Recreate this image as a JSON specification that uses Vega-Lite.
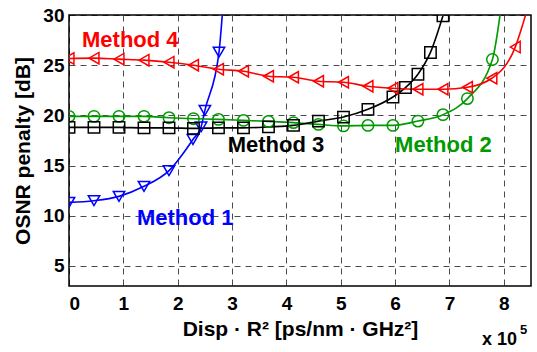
{
  "$schema": "https://vega.github.io/schema/vega-lite/v6.json",
  "width": 462,
  "height": 271,
  "autosize": "none",
  "padding": {"left": 69, "top": 15, "right": 6, "bottom": 66},
  "background": "white",
  "config": {
    "font": "Liberation Sans",
    "view": {"stroke": "black", "strokeWidth": 1.5},
    "axis": {
      "labelFont": "Liberation Sans", "labelFontWeight": "bold", "labelFontSize": 19, "labelColor": "black",
      "titleFont": "Liberation Sans", "titleFontWeight": "bold", "titleFontSize": 21, "titleColor": "black",
      "domain": false, "ticks": false,
      "grid": true, "gridColor": "black", "gridDash": [6, 5], "gridOpacity": 0.7, "gridWidth": 1
    }
  },
  "datasets": {
    "curves": [
      {"method": "Method 1", "x": 0.0, "y": 11.33, "kind": "meas"},
      {"method": "Method 1", "x": 0.46, "y": 11.5, "kind": "meas"},
      {"method": "Method 1", "x": 0.92, "y": 11.93, "kind": "meas"},
      {"method": "Method 1", "x": 1.38, "y": 12.93, "kind": "meas"},
      {"method": "Method 1", "x": 1.84, "y": 14.5, "kind": "meas"},
      {"method": "Method 1", "x": 2.28, "y": 17.6, "kind": "meas"},
      {"method": "Method 1", "x": 2.43, "y": 18.85, "kind": "meas"},
      {"method": "Method 1", "x": 2.5, "y": 20.5, "kind": "meas"},
      {"method": "Method 1", "x": 2.76, "y": 26.3, "kind": "meas"},
      {"method": "Method 1", "x": 2.82, "y": 30, "kind": "end"},

      {"method": "Method 2", "x": 0.0, "y": 19.9, "kind": "meas"},
      {"method": "Method 2", "x": 0.46, "y": 19.9, "kind": "meas"},
      {"method": "Method 2", "x": 0.92, "y": 19.9, "kind": "meas"},
      {"method": "Method 2", "x": 1.38, "y": 19.9, "kind": "meas"},
      {"method": "Method 2", "x": 1.84, "y": 19.77, "kind": "meas"},
      {"method": "Method 2", "x": 2.29, "y": 19.67, "kind": "meas"},
      {"method": "Method 2", "x": 2.75, "y": 19.6, "kind": "meas"},
      {"method": "Method 2", "x": 3.21, "y": 19.5, "kind": "meas"},
      {"method": "Method 2", "x": 3.67, "y": 19.4, "kind": "meas"},
      {"method": "Method 2", "x": 4.13, "y": 19.28, "kind": "meas"},
      {"method": "Method 2", "x": 4.59, "y": 19.1, "kind": "meas"},
      {"method": "Method 2", "x": 5.05, "y": 18.95, "kind": "meas"},
      {"method": "Method 2", "x": 5.5, "y": 19.0, "kind": "meas"},
      {"method": "Method 2", "x": 5.96, "y": 19.0, "kind": "meas"},
      {"method": "Method 2", "x": 6.42, "y": 19.43, "kind": "meas"},
      {"method": "Method 2", "x": 6.88, "y": 20.07, "kind": "meas"},
      {"method": "Method 2", "x": 7.33, "y": 21.67, "kind": "meas"},
      {"method": "Method 2", "x": 7.79, "y": 25.57, "kind": "meas"},
      {"method": "Method 2", "x": 7.93, "y": 30, "kind": "end"},

      {"method": "Method 3", "x": 0.0, "y": 18.8, "kind": "meas"},
      {"method": "Method 3", "x": 0.46, "y": 18.8, "kind": "meas"},
      {"method": "Method 3", "x": 0.92, "y": 18.8, "kind": "meas"},
      {"method": "Method 3", "x": 1.38, "y": 18.75, "kind": "meas"},
      {"method": "Method 3", "x": 1.84, "y": 18.75, "kind": "meas"},
      {"method": "Method 3", "x": 2.29, "y": 18.7, "kind": "meas"},
      {"method": "Method 3", "x": 2.75, "y": 18.75, "kind": "meas"},
      {"method": "Method 3", "x": 3.21, "y": 18.75, "kind": "meas"},
      {"method": "Method 3", "x": 3.67, "y": 18.85, "kind": "meas"},
      {"method": "Method 3", "x": 4.13, "y": 19.0, "kind": "meas"},
      {"method": "Method 3", "x": 4.59, "y": 19.43, "kind": "meas"},
      {"method": "Method 3", "x": 5.05, "y": 19.83, "kind": "meas"},
      {"method": "Method 3", "x": 5.5, "y": 20.6, "kind": "meas"},
      {"method": "Method 3", "x": 5.96, "y": 21.83, "kind": "meas"},
      {"method": "Method 3", "x": 6.19, "y": 22.77, "kind": "meas"},
      {"method": "Method 3", "x": 6.42, "y": 24.1, "kind": "meas"},
      {"method": "Method 3", "x": 6.65, "y": 26.27, "kind": "meas"},
      {"method": "Method 3", "x": 6.88, "y": 29.93, "kind": "meas"},

      {"method": "Method 4", "x": 0.0, "y": 25.67, "kind": "meas"},
      {"method": "Method 4", "x": 0.46, "y": 25.7, "kind": "meas"},
      {"method": "Method 4", "x": 0.92, "y": 25.6, "kind": "meas"},
      {"method": "Method 4", "x": 1.38, "y": 25.5, "kind": "meas"},
      {"method": "Method 4", "x": 1.84, "y": 25.3, "kind": "meas"},
      {"method": "Method 4", "x": 2.29, "y": 25.0, "kind": "meas"},
      {"method": "Method 4", "x": 2.75, "y": 24.6, "kind": "meas"},
      {"method": "Method 4", "x": 3.21, "y": 24.4, "kind": "meas"},
      {"method": "Method 4", "x": 3.67, "y": 23.9, "kind": "meas"},
      {"method": "Method 4", "x": 4.13, "y": 23.8, "kind": "meas"},
      {"method": "Method 4", "x": 4.59, "y": 23.4, "kind": "meas"},
      {"method": "Method 4", "x": 5.05, "y": 23.3, "kind": "meas"},
      {"method": "Method 4", "x": 5.5, "y": 22.9, "kind": "meas"},
      {"method": "Method 4", "x": 5.96, "y": 22.7, "kind": "meas"},
      {"method": "Method 4", "x": 6.42, "y": 22.6, "kind": "meas"},
      {"method": "Method 4", "x": 6.88, "y": 22.6, "kind": "meas"},
      {"method": "Method 4", "x": 7.33, "y": 22.8, "kind": "meas"},
      {"method": "Method 4", "x": 7.78, "y": 23.7, "kind": "meas"},
      {"method": "Method 4", "x": 8.21, "y": 26.8, "kind": "meas"},
      {"method": "Method 4", "x": 8.4, "y": 30, "kind": "end"}
    ],
    "labels": [
      {"method": "Method 4", "x": 0.24, "y": 27.5},
      {"method": "Method 3", "x": 2.92, "y": 17.0},
      {"method": "Method 2", "x": 6.0, "y": 17.0},
      {"method": "Method 1", "x": 1.25, "y": 9.8}
    ],
    "exp": [{"base": "x 10", "power": "5", "x": 7.6, "y": -2.9}]
  },
  "layer": [
    {
      "data": {"name": "curves"},
      "mark": {"type": "line", "strokeWidth": 1.6, "interpolate": "monotone", "clip": true},
      "encoding": {
        "x": {"field": "x", "type": "quantitative",
              "scale": {"domain": [0, 8.5], "nice": false, "zero": false},
              "axis": {"values": [0, 1, 2, 3, 4, 5, 6, 7, 8], "format": "d", "labelPadding": 8, "titlePadding": 5,
                       "title": "Disp · R² [ps/nm · GHz²]"}},
        "y": {"field": "y", "type": "quantitative",
              "scale": {"domain": [3, 30], "nice": false, "zero": false},
              "axis": {"values": [5, 10, 15, 20, 25, 30], "labelPadding": 5, "titlePadding": 9,
                       "title": "OSNR penalty [dB]"}},
        "color": {"field": "method", "type": "nominal",
                  "scale": {"domain": ["Method 1", "Method 2", "Method 3", "Method 4"],
                            "range": ["#0000ff", "#009900", "#000000", "#ff0000"]},
                  "legend": null},
        "detail": {"field": "method"}
      }
    },
    {
      "data": {"name": "curves"},
      "transform": [{"filter": "datum.kind === 'meas'"}],
      "mark": {"type": "point", "filled": false, "strokeWidth": 1.5, "size": 130, "clip": true, "opacity": 1},
      "encoding": {
        "x": {"field": "x", "type": "quantitative"},
        "y": {"field": "y", "type": "quantitative"},
        "color": {"field": "method", "type": "nominal", "legend": null},
        "shape": {"field": "method", "type": "nominal",
                  "scale": {"domain": ["Method 1", "Method 2", "Method 3", "Method 4"],
                            "range": ["triangle-down", "circle", "square", "triangle-left"]},
                  "legend": null}
      }
    },
    {
      "data": {"name": "labels"},
      "mark": {"type": "text", "align": "left", "baseline": "middle", "font": "Liberation Sans", "fontWeight": "bold", "fontSize": 22},
      "encoding": {
        "x": {"field": "x", "type": "quantitative"},
        "y": {"field": "y", "type": "quantitative"},
        "text": {"field": "method"},
        "color": {"field": "method", "type": "nominal", "legend": null}
      }
    },
    {
      "data": {"name": "exp"},
      "mark": {"type": "text", "align": "left", "baseline": "alphabetic", "font": "Liberation Sans", "fontWeight": "bold", "fontSize": 18, "color": "black", "clip": false},
      "encoding": {
        "x": {"field": "x", "type": "quantitative"},
        "y": {"field": "y", "type": "quantitative"},
        "text": {"field": "base"}
      }
    },
    {
      "data": {"name": "exp"},
      "mark": {"type": "text", "align": "left", "baseline": "alphabetic", "font": "Liberation Sans", "fontWeight": "bold", "fontSize": 13, "color": "black", "clip": false, "dx": 38, "dy": -11},
      "encoding": {
        "x": {"field": "x", "type": "quantitative"},
        "y": {"field": "y", "type": "quantitative"},
        "text": {"field": "power"}
      }
    }
  ]
}
